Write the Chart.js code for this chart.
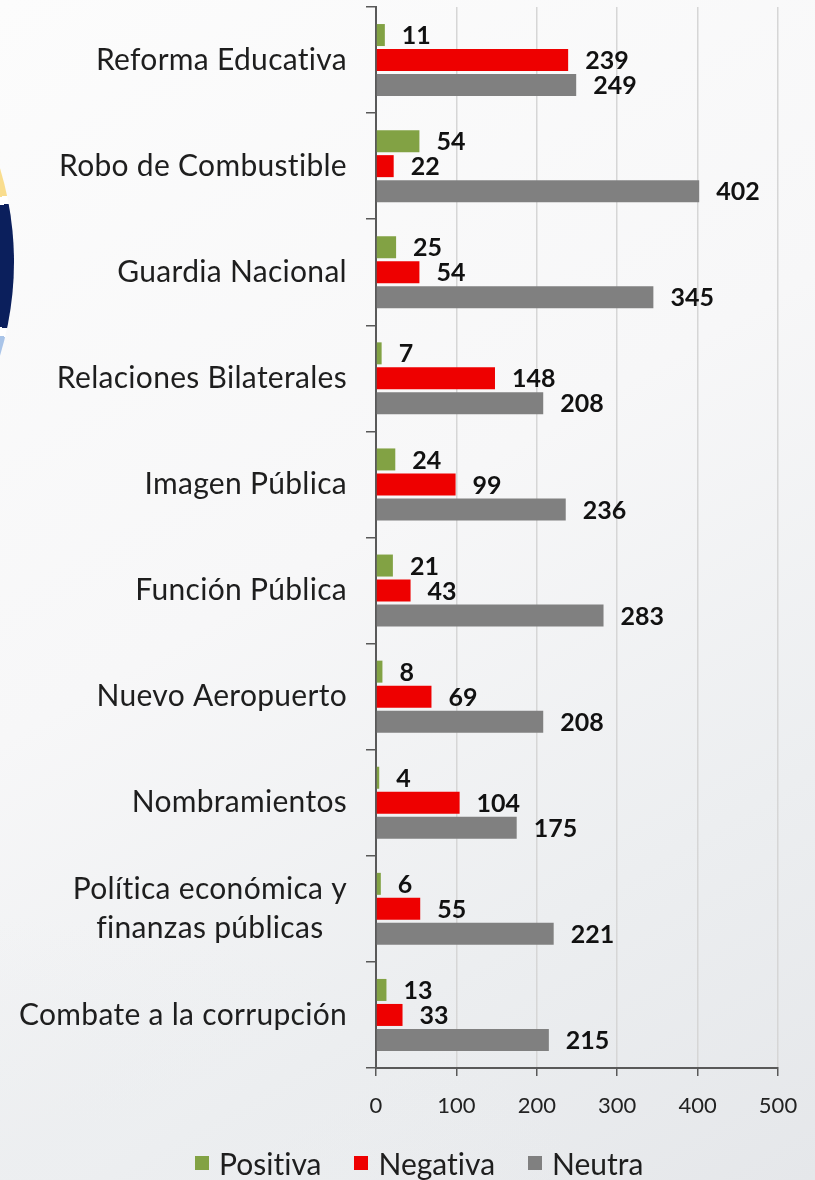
<!DOCTYPE html>
<html>
<head>
<meta charset="utf-8">
<script src="https://cdn.jsdelivr.net/npm/chart.js@4.4.0/dist/chart.umd.min.js"></script>
<style>
  html, body { margin: 0; padding: 0; }
  body {
    width: 815px; height: 1180px; position: relative; overflow: hidden;
    background:
      radial-gradient(ellipse 900px 520px at 0px 1280px, rgba(236,238,240,0.9) 0%, rgba(236,238,240,0) 70%),
      linear-gradient(150deg, #fcfcfc 0%, #f7f7f8 45%, #eceef0 75%, #e5e7ea 100%);
  }
  #logo {
    position: absolute; left: -626px; top: -58px; width: 640px; height: 640px; border-radius: 50%;
    background: conic-gradient(#f9dd8e 0deg 78deg, #fff 78deg 79.5deg, #0b1f5c 79.5deg 102deg, #fff 102deg 103.5deg, #a9c4e8 103.5deg 130deg, transparent 130deg 360deg);
  }
  #wrap { position: absolute; left: 0; top: 0; width: 815px; height: 1180px; }
  #legend {
    position: absolute; left: 195px; top: 1145px; display: flex; align-items: center;
    font-family: Lato, sans-serif; font-size: 30px; color: #1e1e1e;
    font-variant-ligatures: none;
  }
  #legend span.item { display: flex; align-items: center; margin-right: 33px; }
  #legend span.box { width: 14px; height: 14px; margin-right: 10px; display: inline-block; }
</style>
</head>
<body>
<div id="logo"></div>
<div id="wrap"><canvas id="chart" width="815" height="1180"></canvas></div>
<div id="legend"></div>
<script>
// categories, top to bottom
const categories = [
  'Reforma Educativa',
  'Robo de Combustible',
  'Guardia Nacional',
  'Relaciones Bilaterales',
  'Imagen Pública',
  'Función Pública',
  'Nuevo Aeropuerto',
  'Nombramientos',
  ['Política económica y', 'finanzas públicas'],
  'Combate a la corrupción'
];
const positiva = [11, 54, 25, 7, 24, 21, 8, 4, 6, 13];
const negativa = [239, 22, 54, 148, 99, 43, 69, 104, 55, 33];
const neutra = [249, 402, 345, 208, 236, 283, 208, 175, 221, 215];
const xTicks = [0, 100, 200, 300, 400, 500];

const seriesNames = ['Positiva', 'Negativa', 'Neutra'];
const seriesColors = ['#82a244', '#ee0000', '#808080'];

// category labels drawn right-aligned, multi-line centred like the original
const categoryLabels = {
    id: 'categoryLabels',
    afterDraw(chart) {
        const ctx = chart.ctx;
        const y = chart.scales.y;
        const right = 347;
        ctx.save();
        ctx.font = '30px Lato';
        ctx.letterSpacing = '0.3px';
        ctx.fillStyle = '#1e1e1e';
        ctx.textBaseline = 'middle';
        ctx.textAlign = 'center';
        categories.forEach((label, i) => {
            const lines = Array.isArray(label) ? label : [label];
            const maxW = Math.max(...lines.map(l => ctx.measureText(l).width));
            const cy = y.getPixelForTick(i);
            const lh = 39;
            lines.forEach((line, j) => {
                ctx.fillText(line, right - maxW / 2, cy + (j - (lines.length - 1) / 2) * lh);
            });
        });
        ctx.restore();
    }
};

// value labels right of each bar
const valueLabels = {
    id: 'valueLabels',
    afterDatasetsDraw(chart) {
        const ctx = chart.ctx;
        ctx.save();
        ctx.font = 'bold 25px Lato';
        ctx.fillStyle = '#111';
        ctx.textBaseline = 'middle';
        ctx.textAlign = 'left';
        chart.data.datasets.forEach((ds, i) => {
            chart.getDatasetMeta(i).data.forEach((bar, j) => {
                ctx.fillText(ds.data[j], bar.x + 17, bar.y + 1);
            });
        });
        ctx.restore();
    }
};

new Chart(document.getElementById('chart'), {
    type: 'bar',
    data: {
        labels: categories,
        datasets: [
            { label: seriesNames[0], data: positiva, backgroundColor: seriesColors[0] },
            { label: seriesNames[1], data: negativa, backgroundColor: seriesColors[1] },
            { label: seriesNames[2], data: neutra, backgroundColor: seriesColors[2] }
        ]
    },
    options: {
        indexAxis: 'y',
        responsive: false,
        animation: false,
        categoryPercentage: 0.707,
        barPercentage: 0.88,
        layout: { padding: { top: 7, right: 37, bottom: 0, left: 0 } },
        plugins: {
            legend: { display: false },
            tooltip: { enabled: false }
        },
        scales: {
            x: {
                min: 0,
                max: 500,
                afterBuildTicks: scale => { scale.ticks = xTicks.map(v => ({ value: v })); },
                afterFit: scale => { scale.height = 1180 - 1068; },
                ticks: {
                    font: { family: 'Lato', size: 22 },
                    color: '#222',
                    padding: 17
                },
                grid: { color: '#d6d6d6', tickColor: '#595959', tickLength: 8, lineWidth: 1.5 },
                border: { color: '#595959', width: 2 }
            },
            y: {
                afterFit: scale => { scale.width = 376; },
                ticks: { display: false },
                grid: { drawOnChartArea: false, tickColor: '#595959', tickLength: 10, lineWidth: 1.5 },
                border: { color: '#595959', width: 2 }
            }
        }
    },
    plugins: [categoryLabels, valueLabels]
});

// html legend
const legend = document.getElementById('legend');
seriesNames.forEach((name, i) => {
    const item = document.createElement('span');
    item.className = 'item';
    const box = document.createElement('span');
    box.className = 'box';
    box.style.background = seriesColors[i];
    item.appendChild(box);
    item.appendChild(document.createTextNode(name));
    legend.appendChild(item);
});
</script>
</body>
</html>
